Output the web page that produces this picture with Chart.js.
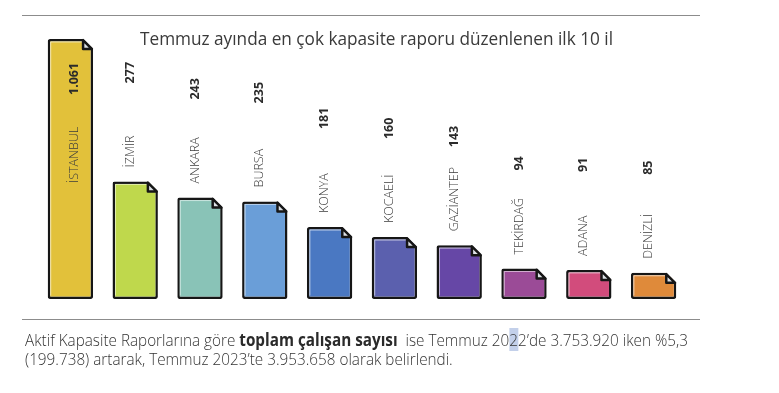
<!DOCTYPE html>
<html lang="tr">
<head>
<meta charset="utf-8">
<title>Kapasite raporu - ilk 10 il</title>
<script src="https://cdn.jsdelivr.net/npm/chart.js@4.4.0/dist/chart.umd.min.js"></script>
<style>
  html, body { margin: 0; padding: 0; background: #fff; }
  #wrap { position: relative; width: 779px; height: 393px; overflow: hidden; font-family: "Open Sans", sans-serif; }
  #chart { position: absolute; left: 0; top: 0; }
  .rule { position: absolute; left: 22px; width: 678px; height: 0; border-top: 1.5px solid #8c8c8c; }
  .fit { position: absolute; white-space: nowrap; transform-origin: 0 0; }
  #title { left: 140px; top: 28px; font-size: 18px; line-height: 20px; color: #3a3a3a; }
  .note { left: 25px; font-size: 17px; font-weight: 300; line-height: 18.5px; color: #333; }
  .note b { font-weight: 700; color: #2a2a2a; }
  .sel { background: #c3d0ea; }
</style>
</head>
<body>
<div id="wrap">
  <div class="rule" style="top:15px"></div>
  <canvas id="chart" width="779" height="393"></canvas>
  <span id="title" class="fit">Temmuz ayında en çok kapasite raporu düzenlenen ilk 10 il</span>
  <div class="rule" style="top:319px"></div>
  <span id="note1" class="fit note" style="top:331px">Aktif Kapasite Raporlarına göre <b>toplam çalışan sayısı</b>&nbsp; ise Temmuz 20<span class="sel">2</span>2’de 3.753.920 iken %5,3</span>
  <span id="note2" class="fit note" style="top:349.5px">(199.738) artarak, Temmuz 2023’te 3.953.658 olarak belirlendi.</span>
</div>

<script>
"use strict";

// data
const cities = ['İSTANBUL', 'İZMİR', 'ANKARA', 'BURSA', 'KONYA', 'KOCAELİ', 'GAZİANTEP', 'TEKİRDAĞ', 'ADANA', 'DENİZLİ'];
const reports = [1061, 277, 243, 235, 181, 160, 143, 94, 91, 85];
const barColors = ['#e2c13a', '#bfd84c', '#89c3b7', '#6a9ed8', '#4a78c2', '#5b60ae', '#6647a6', '#9b4b97', '#d24c7c', '#df8a3a'];

const edgeColor = '#161616';
const fold = 10;

// thousands with a dot, like the source (1.061)
function formatValue(v) {
  return String(v).replace(/\B(?=(\d{3})+(?!\d))/g, '.');
}

// the istanbul bar is too tall, so stop it at the top of the chart area
const capBars = {
  id: 'capBars',
  afterDatasetsUpdate(chart) {
    const top = chart.chartArea.top;
    chart.getDatasetMeta(0).data.forEach(function(bar) {
      bar.$capped = bar.y < top;
      if (bar.$capped) bar.y = top;
    });
  }
};

// folded page corner + little highlight on each bar
const pageCorners = {
  id: 'pageCorners',
  afterDatasetsDraw(chart) {
    const ctx = chart.ctx;
    chart.getDatasetMeta(0).data.forEach(function(bar) {
      const L = bar.x - bar.width / 2;
      const R = bar.x + bar.width / 2;
      const T = bar.y;
      const B = bar.base;
      ctx.save();
      // highlight along top and left inner edge
      ctx.strokeStyle = 'rgba(255,255,255,0.55)';
      ctx.lineWidth = 1;
      ctx.beginPath();
      ctx.moveTo(L + 3, B - 3.5);
      ctx.lineTo(L + 3, T + 3);
      ctx.lineTo(R - fold - 1, T + 3);
      ctx.stroke();
      // cut the corner away
      ctx.fillStyle = '#fff';
      ctx.beginPath();
      ctx.moveTo(R - fold - 1, T - 1);
      ctx.lineTo(R + 1, T - 1);
      ctx.lineTo(R + 1, T + fold + 1);
      ctx.closePath();
      ctx.fill();
      // the folded triangle
      ctx.beginPath();
      ctx.moveTo(R - fold, T + 1.2);
      ctx.lineTo(R - fold, T + fold);
      ctx.lineTo(R - 1.2, T + fold);
      ctx.closePath();
      ctx.fillStyle = '#dde1e6';
      ctx.fill();
      ctx.lineWidth = 2.5;
      ctx.lineJoin = 'round';
      ctx.strokeStyle = edgeColor;
      ctx.stroke();
      ctx.restore();
    });
  }
};

// city names and values written upwards
const verticalLabels = {
  id: 'verticalLabels',
  afterDatasetsDraw(chart) {
    const ctx = chart.ctx;
    const ds = chart.data.datasets[0];
    chart.getDatasetMeta(0).data.forEach(function(bar, i) {
      let x, nameY, valueY;
      if (bar.$capped) {
        x = bar.x + 4;
        nameY = bar.y + 144;
        valueY = bar.y + 56;
      } else {
        x = bar.x - 5;
        nameY = bar.y - 14;
        valueY = bar.y - 98;
      }
      ctx.save();
      ctx.textAlign = 'left';
      ctx.textBaseline = 'middle';
      ctx.translate(x, nameY);
      ctx.rotate(-Math.PI / 2);
      ctx.font = '300 12.5px "Open Sans"';
      ctx.fillStyle = '#3c3c3c';
      ctx.fillText(chart.data.labels[i], 0, 0);
      ctx.restore();

      ctx.save();
      ctx.textAlign = 'left';
      ctx.textBaseline = 'middle';
      ctx.translate(x, valueY);
      ctx.rotate(-Math.PI / 2);
      ctx.font = 'bold 12.5px "Open Sans"';
      ctx.fillStyle = '#2b2b2b';
      ctx.fillText(formatValue(ds.data[i]), 0, 0);
      ctx.restore();
    });
  }
};

const ctx = document.getElementById('chart').getContext('2d');
const myChart = new Chart(ctx, {
  type: 'bar',
  data: {
    labels: cities,
    datasets: [{
      label: 'Kapasite raporu',
      data: reports,
      backgroundColor: barColors,
      borderColor: edgeColor,
      borderWidth: 2.5,
      borderRadius: 2,
      borderSkipped: false,
      base: 30,
      barPercentage: 0.7,
      categoryPercentage: 1
    }]
  },
  options: {
    responsive: false,
    animation: false,
    events: [],
    layout: { padding: { left: 38, right: 93, top: 39, bottom: 94 } },
    scales: {
      x: { display: false },
      y: { display: false, min: 30, max: 576 }
    },
    plugins: {
      legend: { display: false },
      title: { display: false },
      tooltip: { enabled: false }
    }
  },
  plugins: [capBars, pageCorners, verticalLabels]
});

// squeeze the html text to the widths in the picture
function fitWidth(id, target) {
  const el = document.getElementById(id);
  const k = target / el.getBoundingClientRect().width;
  el.style.transform = 'scaleX(' + k + ')';
  return k;
}
fitWidth('title', 473);
const k = fitWidth('note1', 663);
document.getElementById('note2').style.transform = 'scaleX(' + k + ')';
</script>
</body>
</html>
